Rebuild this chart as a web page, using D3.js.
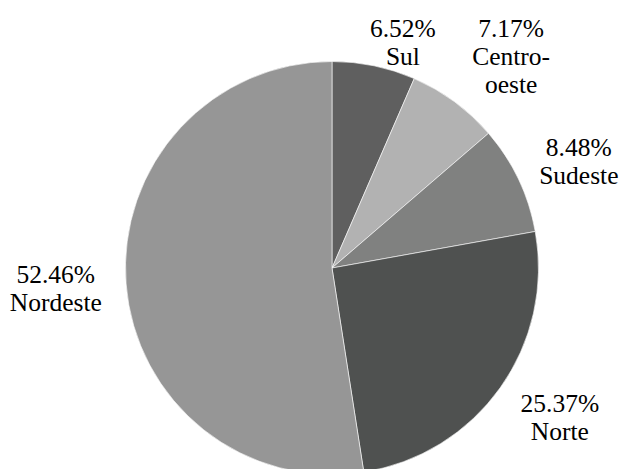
<!DOCTYPE html>
<html lang="pt">
<head>
    <meta charset="utf-8">
    <script src="https://d3js.org/d3.v7.min.js"></script>
    <style>
        html, body {
            margin: 0;
            padding: 0;
            background: #fff;
            overflow: hidden;
        }

        .slice {
            stroke: #ffffff;
            stroke-width: 0.6px;
        }
    </style>
</head>
<body>
    <div id="chart"></div>

    <script>
        // Regions, clockwise from 12 o'clock
        const regions = ['Sul', 'Centro-oeste', 'Sudeste', 'Norte', 'Nordeste'];
        const shares = [6.52, 7.17, 8.48, 25.37, 52.46];
        const labelLines = [['Sul'], ['Centro-', 'oeste'], ['Sudeste'], ['Norte'], ['Nordeste']];
        const sliceColors = ['#5f5f5f', '#b2b2b2', '#808180', '#4f5150', '#969696'];

        const width = 622;
        const height = 469;
        const cx = 332;
        const cy = 268;
        const radius = 206.5;
        const labelRadius = 270;
        const lineHeight = 28;

        // small layout tweaks so the labels sit where the original placed them
        const labelNudge = [[16, 39], [19, 6], [3, 10], [8, -7], [-7, 0]];

        const svg = d3.select('#chart')
            .append('svg')
            .attr('width', width)
            .attr('height', height);

        const g = svg.append('g')
            .attr('transform', `translate(${cx},${cy})`);

        const data = regions.map((name, i) => ({
            name: name,
            value: shares[i],
            lines: [shares[i].toFixed(2) + '%'].concat(labelLines[i]),
            color: sliceColors[i],
            nudge: labelNudge[i]
        }));

        const pie = d3.pie()
            .value(d => d.value)
            .sort(null);

        const arc = d3.arc()
            .innerRadius(0)
            .outerRadius(radius);

        const labelArc = d3.arc()
            .innerRadius(labelRadius)
            .outerRadius(labelRadius);

        const arcs = pie(data);

        g.selectAll('path.slice')
            .data(arcs)
            .enter().append('path')
            .attr('class', 'slice')
            .attr('d', arc)
            .attr('fill', d => d.data.color);

        // Labels: percentage on the first line, region name below
        const labels = g.selectAll('text.label')
            .data(arcs)
            .enter().append('text')
            .attr('class', 'label')
            .attr('text-anchor', 'middle')
            .style('font-family', '"Times New Roman", "Liberation Serif", Times, serif')
            .style('font-size', '25.5px')
            .attr('fill', '#000')
            .attr('transform', d => {
                const c = labelArc.centroid(d);
                const n = d.data.lines.length;
                const x = c[0] + d.data.nudge[0];
                const y = c[1] + 8.5 - (n - 1) * lineHeight / 2 + d.data.nudge[1];
                return `translate(${x},${y})`;
            });

        labels.selectAll('tspan')
            .data(d => d.data.lines)
            .enter().append('tspan')
            .attr('x', 0)
            .attr('y', (d, i) => i * lineHeight)
            .text(d => d);
    </script>
</body>
</html>
